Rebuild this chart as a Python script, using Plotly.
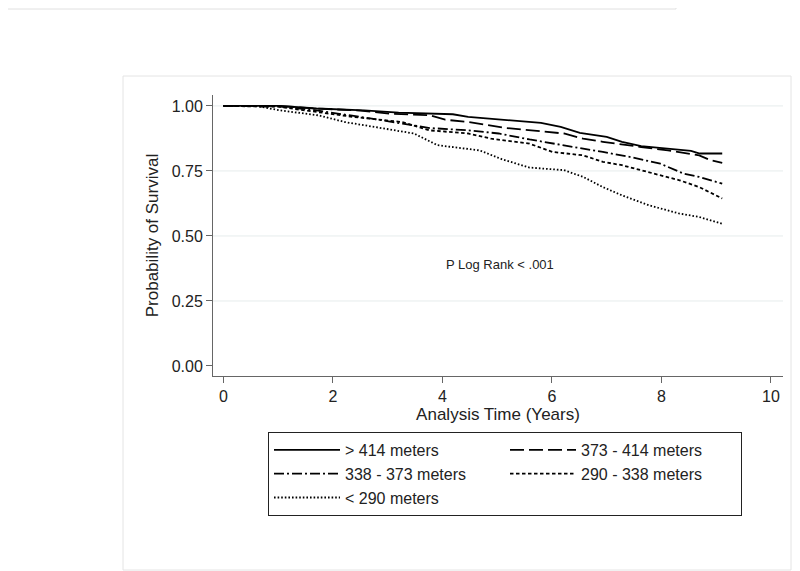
import plotly.graph_objects as go

# ---- data ----
groups = ["> 414 meters", "373 - 414 meters", "338 - 373 meters", "290 - 338 meters", "< 290 meters"]

t_g1 = [0, 1.03, 1.7, 2.57, 3.2, 4.19, 4.47, 5.17, 5.8, 6.16, 6.51, 7.0, 7.28, 7.63, 7.98, 8.54, 8.7, 9.11]
s_g1 = [1.0, 1.0, 0.99, 0.983, 0.974, 0.968, 0.958, 0.945, 0.935, 0.919, 0.896, 0.881, 0.862, 0.845, 0.838, 0.827, 0.817, 0.817]

t_g2 = [0, 1.0, 1.7, 2.5, 3.06, 3.77, 4.05, 4.47, 5.17, 5.59, 6.22, 6.57, 6.93, 7.63, 8.12, 8.69, 8.9, 9.11]
s_g2 = [1.0, 1.0, 0.99, 0.982, 0.97, 0.964, 0.947, 0.938, 0.915, 0.906, 0.894, 0.874, 0.862, 0.842, 0.829, 0.81, 0.791, 0.781]

t_g3 = [0, 1.0, 1.7, 2.15, 2.71, 3.27, 3.77, 4.47, 5.03, 5.59, 6.22, 6.93, 7.42, 7.98, 8.4, 8.69, 9.11]
s_g3 = [1.0, 0.998, 0.983, 0.97, 0.951, 0.932, 0.915, 0.906, 0.894, 0.871, 0.849, 0.823, 0.804, 0.778, 0.74, 0.727, 0.701]

t_g4 = [0, 1.0, 1.7, 2.36, 3.27, 3.77, 4.47, 4.89, 5.59, 6.01, 6.57, 6.93, 7.28, 7.84, 8.33, 8.69, 9.11]
s_g4 = [1.0, 0.997, 0.977, 0.958, 0.938, 0.906, 0.894, 0.874, 0.855, 0.823, 0.81, 0.785, 0.772, 0.74, 0.714, 0.688, 0.644]

t_g5 = [0, 0.6, 1.03, 1.73, 2.22, 2.78, 3.48, 3.91, 4.68, 5.1, 5.59, 6.22, 6.57, 6.93, 7.28, 7.77, 8.33, 8.69, 9.11]
s_g5 = [1.0, 1.0, 0.983, 0.964, 0.938, 0.919, 0.894, 0.849, 0.829, 0.794, 0.763, 0.753, 0.727, 0.688, 0.656, 0.618, 0.586, 0.573, 0.547]

x_ticks = [0, 2, 4, 6, 8, 10]
y_ticks = [0.0, 0.25, 0.5, 0.75, 1.0]
y_tick_labels = ["0.00", "0.25", "0.50", "0.75", "1.00"]
grid_levels = [0.25, 0.5, 0.75, 1.0]

series_t = [t_g1, t_g2, t_g3, t_g4, t_g5]
series_s = [s_g1, s_g2, s_g3, s_g4, s_g5]
dashes = ["solid", "14px,5px", "10px,3px,2px,3px", "3.5px,2.5px", "1.6px,2px"]

FONT = "Liberation Sans, Arial, sans-serif"
OFF = 8  # page body margin
W, H = 800 - OFF, 571 - OFF
L, R, T, B = 213 - OFF, 17, 95 - OFF, 195
PW, PH = W - L - R, H - T - B


def px(x):  # page pixel -> paper x
    return (x - OFF - L) / PW


def py(y):  # page pixel -> paper y
    return (H - B - (y - OFF)) / PH


fig = go.Figure()
for name, t, s, d in zip(groups, series_t, series_s, dashes):
    fig.add_trace(go.Scatter(
        x=t, y=s, mode="lines", name=name,
        line=dict(color="black", width=1.8, dash=d),
    ))

shapes = []
for g in grid_levels:
    shapes.append(dict(type="line", xref="paper", yref="y", x0=0, x1=1, y0=g, y1=g,
                       line=dict(color="#e6ecec", width=1), layer="below"))
# outer faint frames
shapes.append(dict(type="rect", xref="paper", yref="paper",
                   x0=px(123), x1=px(791), y0=py(570), y1=py(76),
                   line=dict(color="#e4e4e4", width=1), layer="below"))
shapes.append(dict(type="rect", xref="paper", yref="paper",
                   x0=px(0.5), x1=px(676), y0=py(9), y1=py(0.5),
                   line=dict(color="#e0e0e0", width=1), layer="below"))

fig.update_layout(
    width=W, height=H,
    margin=dict(l=L, r=R, t=T, b=B, autoexpand=False),
    paper_bgcolor="white", plot_bgcolor="white",
    font=dict(family=FONT, color="#222222", size=16),
    shapes=shapes,
    showlegend=True,
    legend=dict(
        orientation="h", x=px(268), y=py(432), xanchor="left", yanchor="top",
        bordercolor="#222222", borderwidth=1, bgcolor="white",
        font=dict(size=16, family=FONT, color="#222222"),
        itemwidth=66, entrywidth=155, traceorder="normal",
    ),
    annotations=[dict(x=5.06, y=0.392, xref="x", yref="y", text="P Log Rank < .001",
                      showarrow=False, font=dict(size=13, family=FONT, color="#222222"))],
)

fig.update_xaxes(
    range=[-0.19, 10.22], tickvals=x_ticks, ticktext=[str(v) for v in x_ticks],
    showline=True, linecolor="#666666", linewidth=1, showgrid=False, zeroline=False,
    ticks="outside", ticklen=6, tickcolor="#666666",
    tickfont=dict(size=16, family=FONT, color="#222222"),
    title=dict(text="Analysis Time (Years)", font=dict(size=17, family=FONT, color="#222222"), standoff=1),
)
fig.update_yaxes(
    range=[-0.0385, 1.042], tickvals=y_ticks, ticktext=y_tick_labels,
    showline=True, linecolor="#666666", linewidth=1, showgrid=False, zeroline=False,
    ticks="outside", ticklen=6, tickcolor="#666666",
    tickfont=dict(size=16, family=FONT, color="#222222"),
    title=dict(text="Probability of Survival", font=dict(size=17, family=FONT, color="#222222"), standoff=8),
)

fig.write_html("out.html")
